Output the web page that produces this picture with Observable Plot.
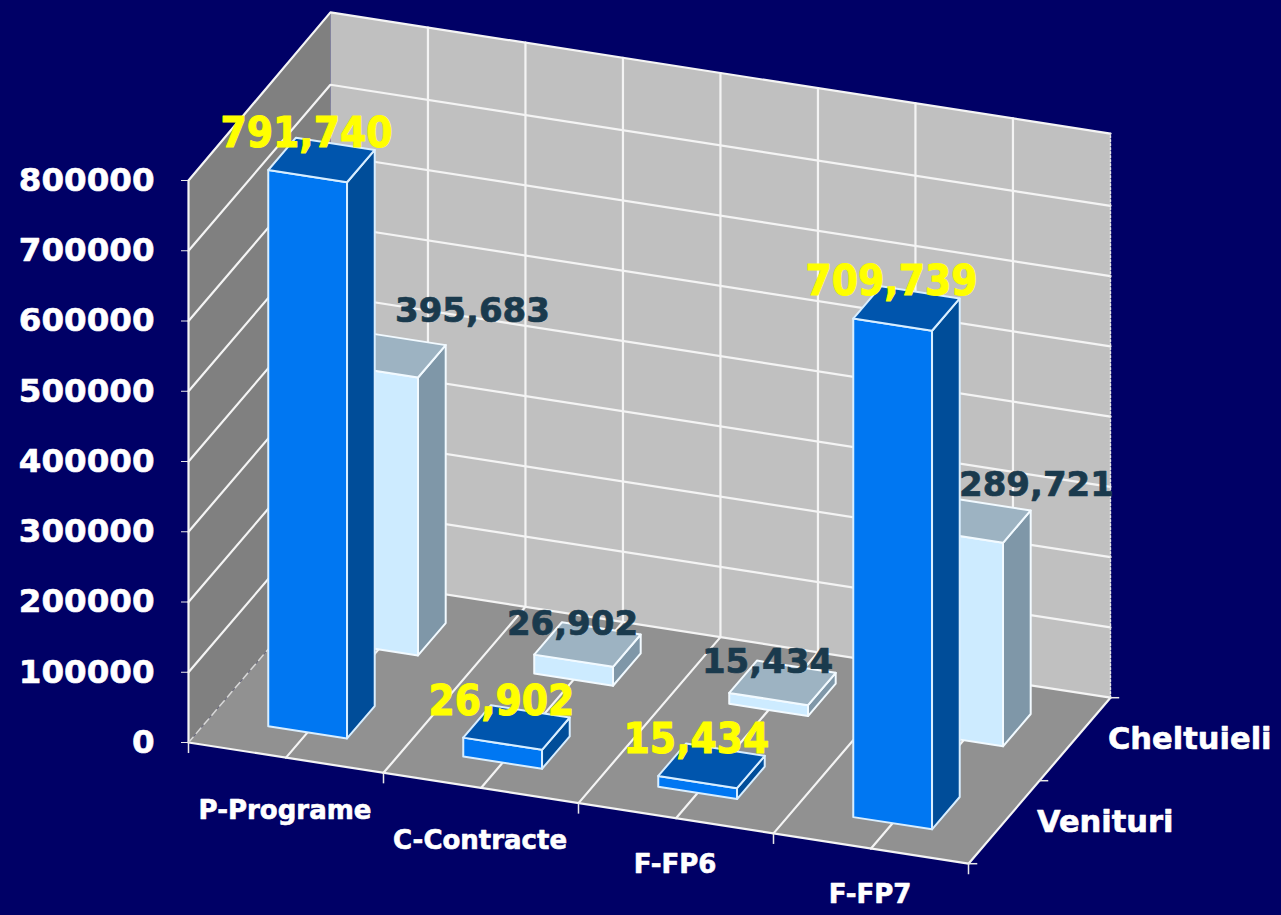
<!DOCTYPE html>
<html><head><meta charset="utf-8">
<script src="https://cdn.jsdelivr.net/npm/d3@7"></script>
<script src="https://cdn.jsdelivr.net/npm/@observablehq/plot@0.6"></script>
<style>html,body{margin:0;padding:0;background:#000066;overflow:hidden}svg{display:block}</style>
</head><body><div id="chart"></div>
<script>
const categories = ["P-Programe", "C-Contracte", "F-FP6", "F-FP7"];
const seriesNames = ["Venituri", "Cheltuieli"];
const venituri = [791740, 26902, 15434, 709739];
const cheltuieli = [395683, 26902, 15434, 289721];
const valueTicks = [0, 100000, 200000, 300000, 400000, 500000, 600000, 700000, 800000];

const seriesValues = [venituri, cheltuieli];
const topValue = 800000;
const wallTop = 803000;

// Oblique projection: category position c, depth d (0 = front, 1 = back), value v
const depthShiftX = 0.728;      // category units per full depth
const depthShiftY = 236300;     // value units per full depth
const catShiftY = -43133;       // value units per category
const px = (c, d) => c + d * depthShiftX;
const py = (c, d, v) => v + c * catShiftY + d * depthShiftY;
const pt = (id, fill, stroke, c, d, v) => ({id, fill, stroke, x: px(c, d), y: py(c, d, v)});
const poly = (id, fill, stroke, pts) => pts.map(([c, d, v]) => pt(id, fill, stroke, c, d, v));

const n = categories.length;
const walls = [
  ...poly("left", "#808080", null, [[0,0,0],[0,1,0],[0,1,wallTop],[0,0,topValue]]),
  ...poly("back", "#c0c0c0", null, [[0,1,0],[n,1,0],[n,1,wallTop],[0,1,wallTop]]),
  ...poly("floor", "#919191", null, [[0,0,0],[n,0,0],[n,1,0],[0,1,0]])
];

const gridRows = [];
valueTicks.slice(1, -1).forEach(v => {
  gridRows.push(...poly("h" + v, null, null, [[0,0,v],[0,1,v],[n,1,v]]));
});
d3.range(1, 2 * n).forEach(k => {
  const c = k / 2;
  gridRows.push(...poly("v" + k, null, null, [[c,0,0],[c,1,0],[c,1,wallTop]]));
});
const edgeRows = [
  ...poly("outline", null, null, [[0,0,0],[0,0,topValue],[0,1,wallTop],[n,1,wallTop]]),
  ...poly("front", null, null, [[0,0,0],[n,0,0],[n,1,0]]),
  ...poly("backfloor", null, null, [[0,1,0],[n,1,0]])
];

const barW = 0.404, barD = 0.195;
const palettes = [
  {front: "#0077f2", top: "#0055ad", side: "#004d99", edge: "#d8eeff"},
  {front: "#cdebff", top: "#9db3c2", side: "#7f97a8", edge: "#f2faff"}
];
const bars = [];
[1, 0].forEach(s => {
  const col = palettes[s];
  seriesValues[s].forEach((v, i) => {
    const c0 = i + 0.5 - barW / 2, c1 = c0 + barW;
    const d0 = (s + 0.5) / 2 - barD / 2, d1 = d0 + barD;
    const id = `b${s}${i}`;
    bars.push(...poly(id + "f", col.front, col.edge, [[c0,d0,0],[c1,d0,0],[c1,d0,v],[c0,d0,v]]));
    bars.push(...poly(id + "s", col.side, col.edge, [[c1,d0,0],[c1,d1,0],[c1,d1,v],[c1,d0,v]]));
    bars.push(...poly(id + "t", col.top, col.edge, [[c0,d0,v],[c1,d0,v],[c1,d1,v],[c0,d1,v]]));
  });
});

const labelRows = [];
seriesValues.forEach((vals, s) => vals.forEach((v, i) => {
  const c = i + 0.5, d = (s + 0.5) / 2;
  labelRows.push({s, i, text: d3.format(",")(v), x: px(c, d), y: py(c, d, v)});
}));
const isMoved = r => r.s === 1 && (r.i === 0 || r.i === 3);

const wide = "DejaVu Sans";
const narrow = "DejaVu Sans Condensed, DejaVu Sans";
const yellow = "#ffff00", dark = "#1a3a4d";
const darkFont = {fontFamily: wide, fontWeight: "bold", fontSize: 34, lineAnchor: "bottom", fill: dark, stroke: dark, strokeWidth: 0.7};
const yellowFont = {fontFamily: narrow, fontWeight: "bold", fontSize: 42, lineAnchor: "bottom", fill: yellow, stroke: yellow, strokeWidth: 1};
const whiteFont = {fontFamily: wide, fontWeight: "bold", fill: "white", stroke: "white", strokeWidth: 0.6};

const catRows = categories.map((t, i) => ({t, x: px(i + 0.5, 0), y: py(i + 0.5, 0, 0)}));
const serRows = seriesNames.map((t, s) => ({t, x: px(n, (s + 0.5) / 2), y: py(n, (s + 0.5) / 2, 0)}));

const catTicks = d3.range(0, n + 1).map(c => ({x: px(c, 0), y1: py(c, 0, 0), y2: py(c, 0, 0) - 15000}));
const depthTicks = [0, 0.5, 1].map(d => ({x1: px(n, d), x2: px(n, d) + 0.045, y: py(n, d, 0)}));

const plot = Plot.plot({
  width: 1281, height: 915,
  marginLeft: 188, marginRight: 313, marginTop: 180, marginBottom: 173,
  style: {background: "transparent", color: "white", overflow: "visible"},
  x: {domain: [0, n], axis: null},
  y: {domain: [0, topValue], axis: null},
  color: {type: "identity"},
  marks: [
    Plot.line(walls, {x: "x", y: "y", z: "id", fill: "fill", curve: "linear-closed"}),
    Plot.line(gridRows, {x: "x", y: "y", z: "id", stroke: "#f4f4f4", strokeWidth: 2.2}),
    Plot.line(edgeRows, {x: "x", y: "y", z: "id", stroke: "#f4f4f4", strokeWidth: 2.2}),
    Plot.line(poly("dash", null, null, [[0,0,0],[0,1,0]]), {x: "x", y: "y", stroke: "#d8d8d8", strokeWidth: 1.5, strokeDasharray: "7,5"}),
    Plot.line(poly("rightEdge", null, null, [[n,1,0],[n,1,wallTop]]), {x: "x", y: "y", stroke: "#e8e8e8", strokeWidth: 1.5, strokeDasharray: "2,2"}),
    Plot.link(catTicks, {x1: "x", x2: "x", y1: "y1", y2: "y2", stroke: "#e8e8e8", strokeWidth: 1.5}),
    Plot.link(depthTicks, {x1: "x1", x2: "x2", y1: "y", y2: "y", stroke: "#e8e8e8", strokeWidth: 1.5}),
    Plot.axisY(valueTicks, {
      anchor: "left", tickSize: 7, tickPadding: 27, label: null,
      tickFormat: d3.format("d"), fontSize: 32.5, fontWeight: "bold",
      fontFamily: wide, fill: "white", stroke: "#e8e8e8",
      textStroke: "white", textStrokeWidth: 0.6
    }),
    Plot.line(bars, {x: "x", y: "y", z: "id", fill: "fill", stroke: "stroke", strokeWidth: 2, curve: "linear-closed"}),
    Plot.text(labelRows.filter(r => r.s === 1 && !isMoved(r)), {x: "x", y: "y", text: "text", dx: -15, dy: -10, ...darkFont}),
    Plot.text(labelRows.filter(r => r.s === 1 && r.i === 0), {x: "x", y: "y", text: "text", dx: 80, dy: -33, ...darkFont}),
    Plot.text(labelRows.filter(r => r.s === 1 && r.i === 3), {x: "x", y: "y", text: "text", dx: 59, dy: -25, ...darkFont}),
    Plot.text(labelRows.filter(r => r.s === 0), {x: "x", y: "y", text: "text", dx: -15, dy: -13, ...yellowFont}),
    Plot.text(catRows.slice(0, 2), {x: "x", y: "y", text: "t", fontSize: 26, dx: -1, dy: 53, ...whiteFont}),
    Plot.text(catRows.slice(2), {x: "x", y: "y", text: "t", fontSize: 26, dx: -1, dy: 46, ...whiteFont}),
    Plot.text(serRows, {x: "x", y: "y", text: "t", fontSize: 30.5, textAnchor: "start", dx: 33, ...whiteFont})
  ]
});
document.getElementById("chart").append(plot);
</script></body></html>
